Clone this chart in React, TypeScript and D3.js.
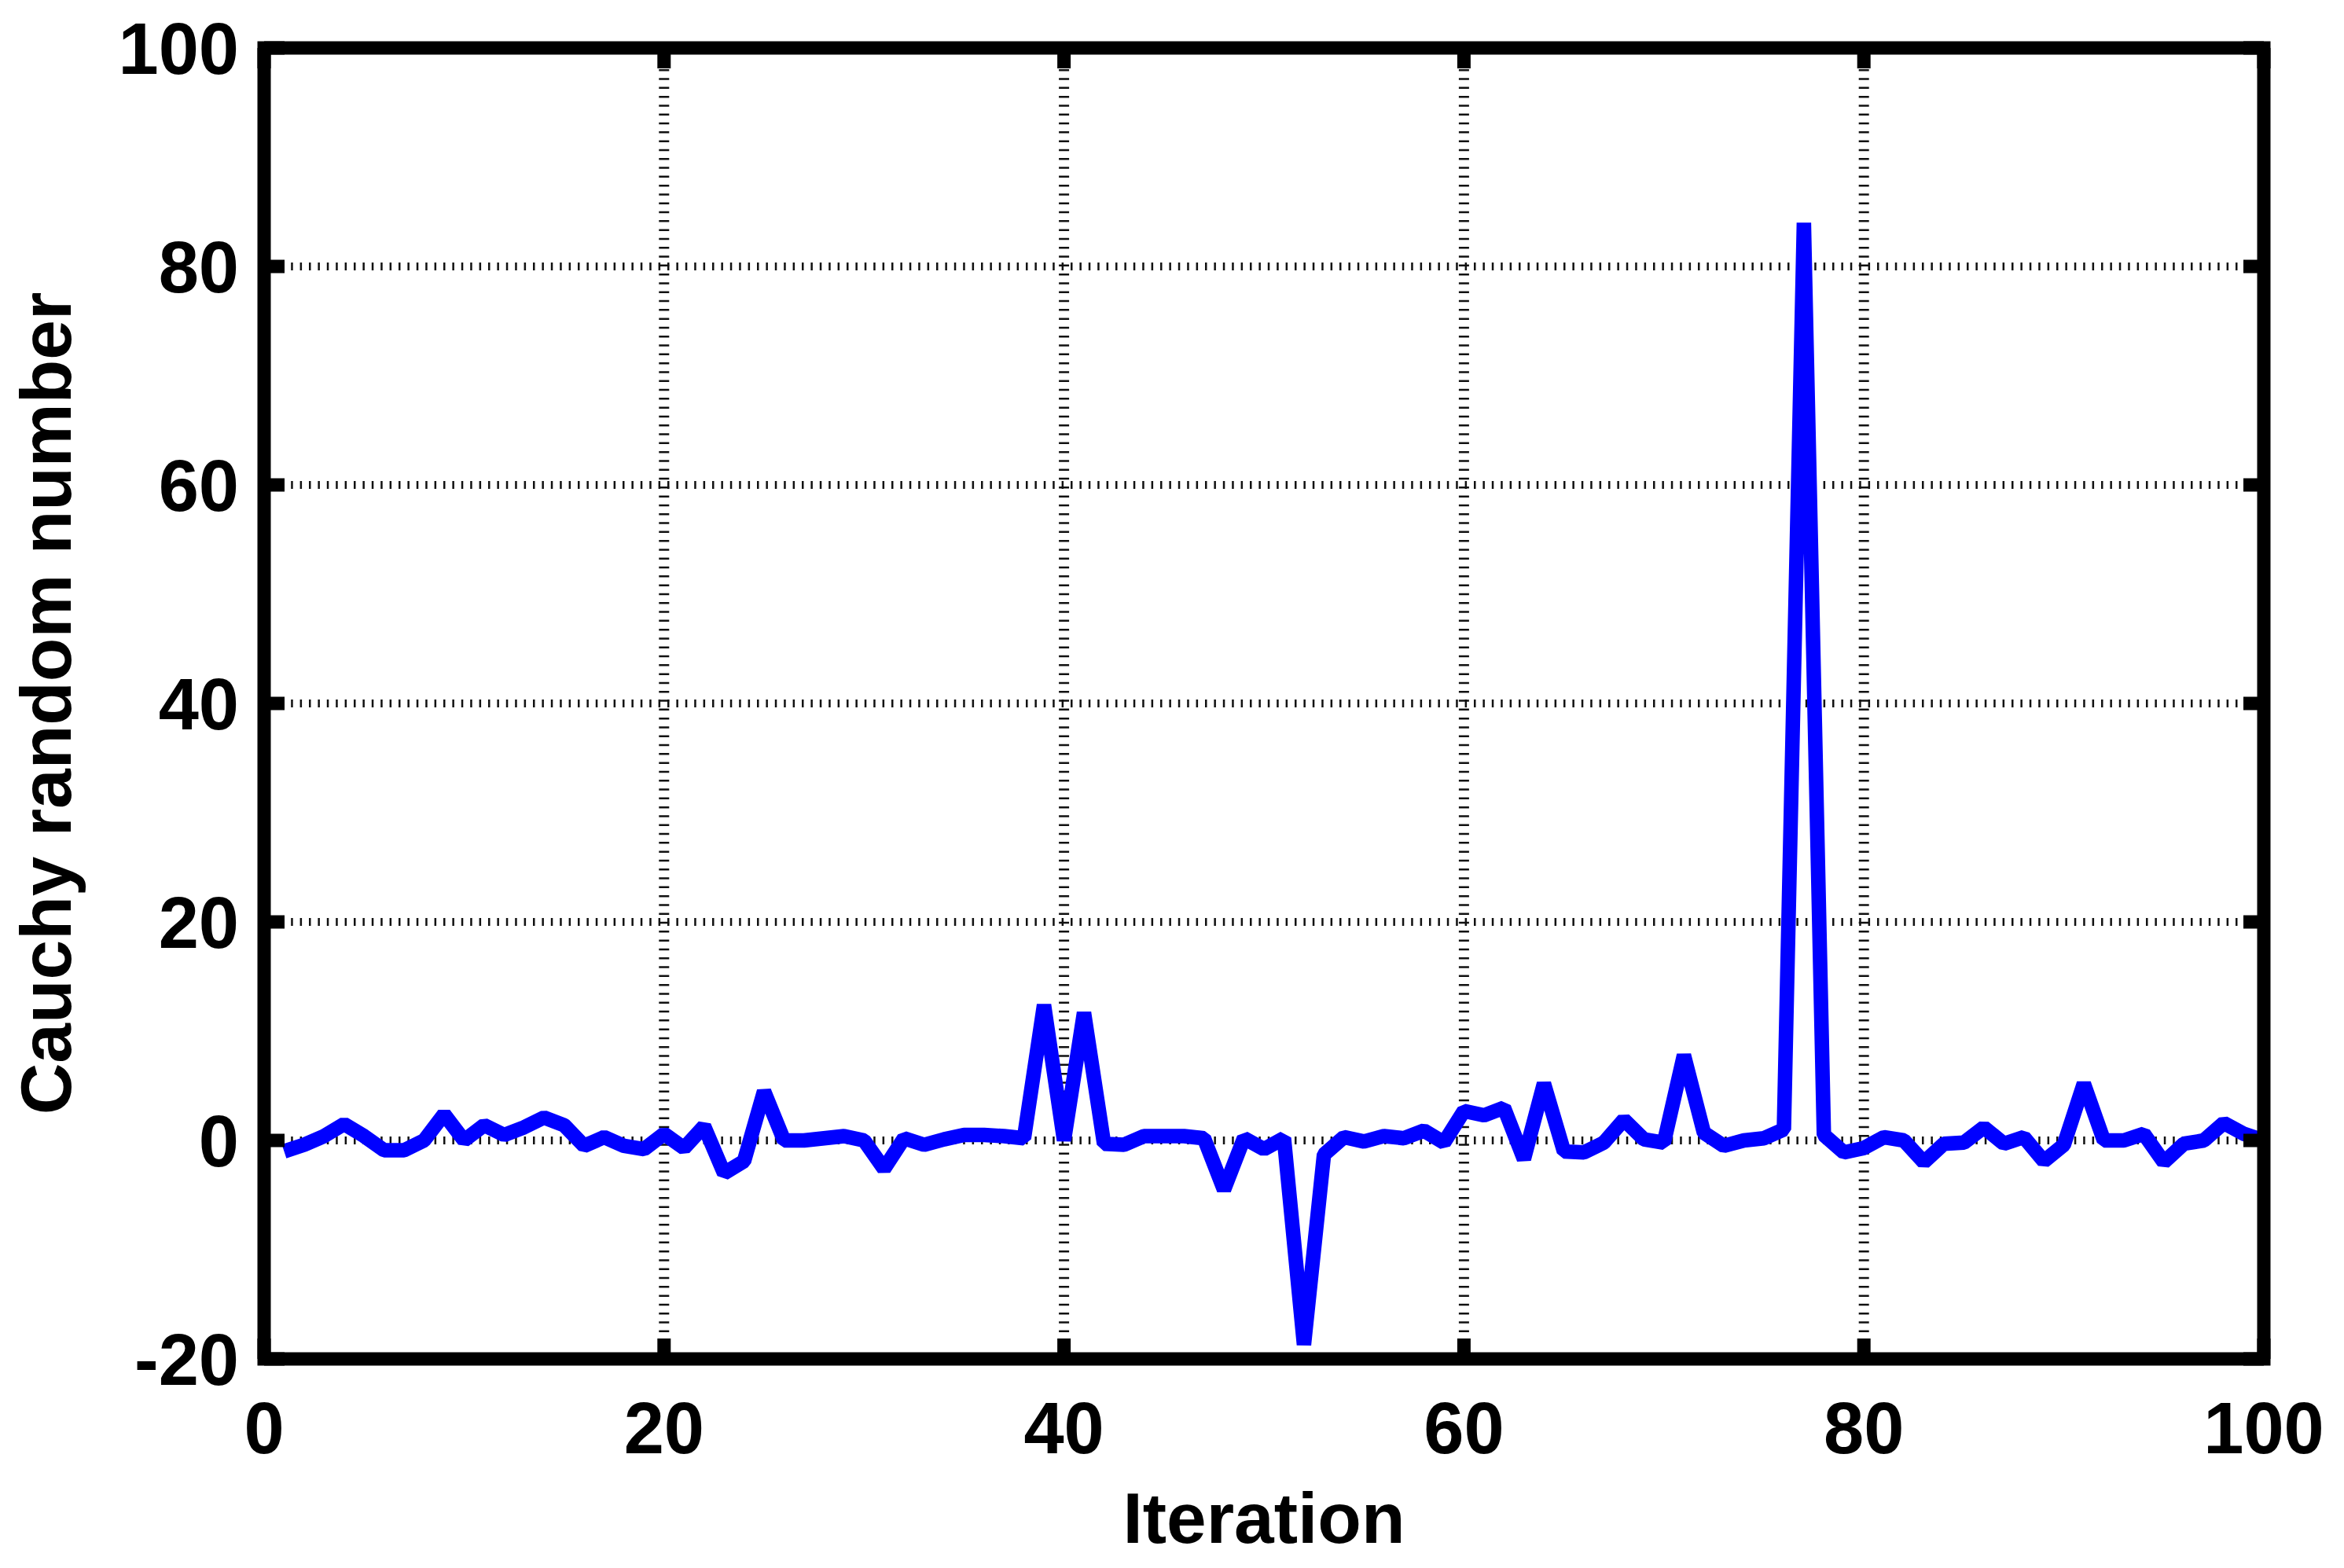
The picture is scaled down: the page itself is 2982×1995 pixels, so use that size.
import { useMemo } from "react";
import * as d3 from "d3";

// ── Data (iteration i+1 → value) ──────────────────────────────
const CAUCHY: number[] = [
  -1.0, -0.4, 0.4, 1.5, 0.4, -0.9, -0.9, 0.0, 2.4, 0.0,
  1.4, 0.5, 1.2, 2.1, 1.4, -0.5, 0.3, -0.5, -0.8, 0.6,
  -0.7, 1.3, -3.0, -1.9, 4.5, 0.0, 0.0, 0.2, 0.4, 0.0,
  -2.6, 0.2, -0.4, 0.1, 0.5, 0.5, 0.4, 0.2, 12.4, 0.0,
  11.7, -0.3, -0.4, 0.4, 0.4, 0.4, 0.2, -4.5, 0.2, -0.8,
  0.2, -18.7, -1.3, 0.3, -0.1, 0.4, 0.2, 0.9, -0.2, 2.7,
  2.3, 3.0, -1.7, 5.2, -1.0, -1.1, -0.2, 1.9, 0.1, -0.2,
  7.8, 0.7, -0.5, 0.0, 0.2, 1.0, 84.0, 0.5, -1.1, -0.7,
  0.3, 0.0, -2.0, -0.3, -0.2, 1.2, -0.3, 0.3, -1.9, -0.4,
  5.2, 0.0, 0.0, 0.6, -2.0, -0.3, 0.0, 1.6, 0.6, 0.0,
];

const X_TICKS = [0, 20, 40, 60, 80, 100];
const Y_TICKS = [-20, 0, 20, 40, 60, 80, 100];
const X_LABEL = "Iteration";
const Y_LABEL = "Cauchy random number";

// ── Geometry ──────────────────────────────────────────────────
const W = 2982;
const H = 1995;
const PLOT = { left: 336, right: 2880, top: 61, bottom: 1729 };
const FRAME_W = 17;
const TICK_LEN = 26;
const FONT = "'Liberation Sans', Arial, Helvetica, sans-serif";

export default function App() {
  const x = useMemo(
    () => d3.scaleLinear().domain([0, 100]).range([PLOT.left, PLOT.right]),
    []
  );
  const y = useMemo(
    () => d3.scaleLinear().domain([-20, 100]).range([PLOT.bottom, PLOT.top]),
    []
  );
  const linePath = useMemo(
    () =>
      d3
        .line<number>()
        .x((_d, i) => x(i + 1))
        .y((d) => y(d))(CAUCHY) ?? "",
    [x, y]
  );

  const [x0, x1] = x.domain();
  const [y0, y1] = y.domain();

  return (
    <div style={{ position: "absolute", left: 0, top: 0 }}>
      <svg width={W} height={H} style={{ display: "block", background: "#fff" }}>
        <rect width={W} height={H} fill="#fff" />

        {/* grid — dotted */}
        <g>
          {Y_TICKS.filter((t) => t !== y0 && t !== y1).map((t) => (
            <line
              key={`gy${t}`}
              x1={x(x0)} x2={x(x1)} y1={y(t)} y2={y(t)}
              stroke="#111" strokeWidth={10} strokeDasharray="2.5 8.9"
            />
          ))}
          {X_TICKS.filter((t) => t !== x0 && t !== x1).map((t) => (
            <line
              key={`gx${t}`}
              x1={x(t)} x2={x(t)} y1={y(y0)} y2={y(y1)}
              stroke="#111" strokeWidth={13} strokeDasharray="2.5 8.8"
            />
          ))}
        </g>

        {/* series */}
        <path
          d={linePath}
          fill="none"
          stroke="#0000ff"
          strokeWidth={18.5}
          strokeLinejoin="bevel"
        />

        {/* box + inward ticks on all four sides */}
        <rect
          x={PLOT.left} y={PLOT.top}
          width={PLOT.right - PLOT.left} height={PLOT.bottom - PLOT.top}
          fill="none" stroke="#000" strokeWidth={FRAME_W}
        />
        {X_TICKS.map((t) => (
          <g key={`tx${t}`} stroke="#000" strokeWidth={FRAME_W}>
            <line x1={x(t)} x2={x(t)} y1={PLOT.bottom} y2={PLOT.bottom - TICK_LEN} />
            <line x1={x(t)} x2={x(t)} y1={PLOT.top} y2={PLOT.top + TICK_LEN} />
          </g>
        ))}
        {Y_TICKS.map((t) => (
          <g key={`ty${t}`} stroke="#000" strokeWidth={FRAME_W}>
            <line x1={PLOT.left} x2={PLOT.left + TICK_LEN} y1={y(t)} y2={y(t)} />
            <line x1={PLOT.right} x2={PLOT.right - TICK_LEN} y1={y(t)} y2={y(t)} />
          </g>
        ))}

        {/* tick labels */}
        <g fontFamily={FONT} fontWeight="bold" fontSize={92} fill="#000">
          {Y_TICKS.map((t) => (
            <text key={`ly${t}`} x={PLOT.left - 32} y={y(t)} dy="0.36em" textAnchor="end">
              {t}
            </text>
          ))}
          {X_TICKS.map((t) => (
            <text key={`lx${t}`} x={x(t)} y={1849} textAnchor="middle">
              {t}
            </text>
          ))}
        </g>

        {/* axis labels */}
        <g fontFamily={FONT} fontWeight="bold" fontSize={91} fill="#000">
          <text x={(PLOT.left + PLOT.right) / 2} y={1963} textAnchor="middle">
            {X_LABEL}
          </text>
          <text
            transform={`translate(90, ${(PLOT.top + PLOT.bottom) / 2}) rotate(-90)`}
            textAnchor="middle"
          >
            {Y_LABEL}
          </text>
        </g>
      </svg>
    </div>
  );
}
